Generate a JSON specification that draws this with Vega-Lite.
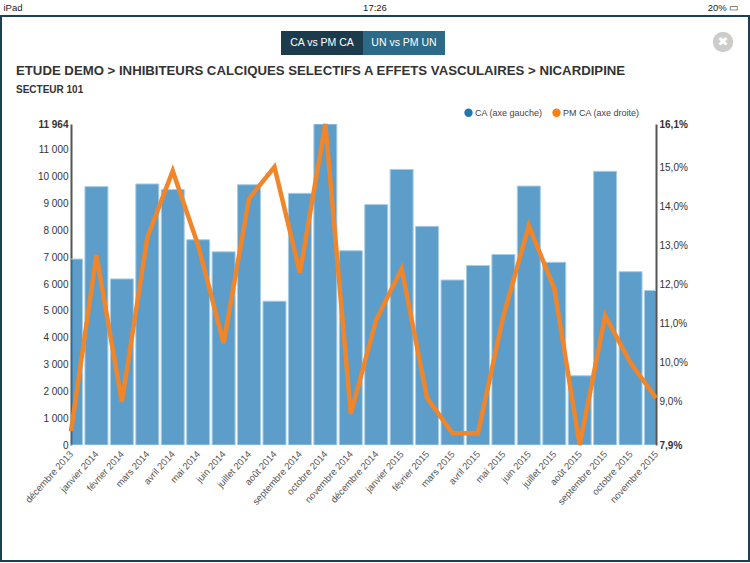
{
"$schema":"https://vega.github.io/schema/vega-lite/v6.json",
"width":585,"height":321,
"autosize":"none",
"padding":{"left":71,"top":124,"right":94,"bottom":118},
"background":"white",
"config":{"view":{"stroke":null},"font":"Liberation Sans","legend":{"symbolType":"circle"}},
"title":{"text":"ETUDE DEMO > INHIBITEURS CALCIQUES SELECTIFS A EFFETS VASCULAIRES > NICARDIPINE","subtitle":"SECTEUR 101","anchor":"start","frame":"group","dx":-55,"offset":-93,"font":"Liberation Sans","fontSize":13.2,"fontWeight":"bold","color":"#333333","subtitleFont":"Liberation Sans","subtitleFontSize":10,"subtitleFontWeight":"bold","subtitleColor":"#333333","subtitlePadding":7},
"datasets":{
"months":[
{"month":"décembre 2013","ca":6930,"pm":8.25},
{"month":"janvier 2014","ca":9630,"pm":12.75},
{"month":"février 2014","ca":6190,"pm":9.0},
{"month":"mars 2014","ca":9730,"pm":13.2},
{"month":"avril 2014","ca":9520,"pm":14.9},
{"month":"mai 2014","ca":7650,"pm":13.0},
{"month":"juin 2014","ca":7200,"pm":10.5},
{"month":"juillet 2014","ca":9700,"pm":14.2},
{"month":"août 2014","ca":5360,"pm":15.0},
{"month":"septembre 2014","ca":9380,"pm":12.3},
{"month":"octobre 2014","ca":11964,"pm":16.1},
{"month":"novembre 2014","ca":7240,"pm":8.7},
{"month":"décembre 2014","ca":8960,"pm":11.1},
{"month":"janvier 2015","ca":10270,"pm":12.4},
{"month":"février 2015","ca":8150,"pm":9.1},
{"month":"mars 2015","ca":6150,"pm":8.2},
{"month":"avril 2015","ca":6690,"pm":8.2},
{"month":"mai 2015","ca":7100,"pm":11.2},
{"month":"juin 2015","ca":9650,"pm":13.5},
{"month":"juillet 2015","ca":6810,"pm":11.9},
{"month":"août 2015","ca":2580,"pm":7.9},
{"month":"septembre 2015","ca":10200,"pm":11.2},
{"month":"octobre 2015","ca":6460,"pm":10.0},
{"month":"novembre 2015","ca":5760,"pm":9.1}
]},
"layer":[
{"data":{"values":[{"part":"frame"}]},
 "mark":{"type":"rect","fill":null,"stroke":"#1d3f55","strokeWidth":2},
 "encoding":{
  "x":{"datum":0,"type":"quantitative","axis":null,"scale":{"domain":[0,1],"range":[-70,678]}},
  "x2":{"datum":1},
  "y":{"datum":0,"type":"quantitative","axis":null,"scale":{"domain":[0,1],"range":[-108,437]}},
  "y2":{"datum":1}}},
{"data":{"name":"months"},
 "mark":{"type":"bar","size":23,"clip":true,"fillOpacity":0.72,"stroke":"#a8cde6","strokeWidth":1},
 "encoding":{
  "x":{"field":"month","type":"nominal","sort":null,"scale":{"type":"point","padding":0},"title":null,
   "axis":{"labelAngle":-48,"labelAlign":"right","labelBaseline":"middle","labelPadding":7,"labelFontSize":9.5,"labelColor":"#555555","labelOverlap":false,"ticks":false,"domain":false,"grid":false,"labelFont":"Liberation Sans"}},
  "y":{"field":"ca","type":"quantitative","scale":{"domain":[0,11964],"nice":false},"title":null,
   "axis":{"orient":"left","values":[0,1000,2000,3000,4000,5000,6000,7000,8000,9000,10000,11000,11964],"labelExpr":"replace(format(datum.value,','),',',' ')","labelFontSize":10,"labelColor":"#333333","labelPadding":3,"labelFont":"Liberation Sans","labelFontWeight":{"condition":{"test":"datum.value==11964","value":"bold"},"value":"normal"},"ticks":false,"grid":false,"domainColor":"#555555","domainWidth":2}},
  "fill":{"datum":"CA (axe gauche)","scale":{"domain":["CA (axe gauche)","PM CA (axe droite)"],"range":["#1f77b4","#ff7f0e"]},
   "legend":{"orient":"none","legendX":393,"legendY":-16,"direction":"horizontal","title":null,"labelFontSize":9,"labelFont":"Liberation Sans","labelColor":"#444444","labelOffset":2,"symbolSize":70,"columnPadding":9,"symbolType":"circle","symbolOpacity":1,"symbolStrokeWidth":0}}}},
{"data":{"name":"months"},
 "mark":{"type":"line","clip":false,"strokeWidth":4.5,"stroke":"#f0852a","strokeJoin":"miter"},
 "encoding":{
  "x":{"field":"month","type":"nominal","sort":null,"scale":{"type":"point","padding":0},"axis":null},
  "y":{"field":"pm","type":"quantitative","scale":{"domain":[7.9,16.1],"nice":false,"zero":false},"title":null,
   "axis":{"orient":"right","values":[7.9,9,10,11,12,13,14,15,16.1],"labelExpr":"replace(format(datum.value,'.1f'),'.',',')+'%'","labelFontSize":10,"labelColor":"#333333","labelPadding":3,"labelFont":"Liberation Sans","labelFontWeight":{"condition":{"test":"datum.value==16.1||datum.value==7.9","value":"bold"},"value":"normal"},"ticks":false,"grid":false,"domainColor":"#555555","domainWidth":2}}}},
{"data":{"values":[{"label":"iPad"},{"label":"20% ▭"}]},
 "mark":{"type":"text","fontSize":9.5,"color":"#222222","font":"Liberation Sans"},
 "encoding":{
  "x":{"field":"label","type":"nominal","sort":null,"axis":null,"scale":{"type":"point","padding":0,"range":[-58,652]}},
  "y":{"datum":"status","type":"nominal","axis":null,"scale":{"type":"point","domain":["status"],"padding":0,"range":[-116,-116]}},
  "text":{"field":"label"}}},
{"data":{"values":[{"label":"17:26"}]},
 "mark":{"type":"text","fontSize":9.5,"color":"#222222","font":"Liberation Sans"},
 "encoding":{
  "x":{"field":"label","type":"nominal","axis":null,"scale":{"type":"point","padding":0,"range":[304,304]}},
  "y":{"datum":"status","type":"nominal","axis":null,"scale":{"type":"point","domain":["status"],"padding":0,"range":[-116,-116]}},
  "text":{"field":"label"}}},
{"data":{"values":[{"tab":"CA vs PM CA"},{"tab":"UN vs PM UN"}]},
 "mark":{"type":"rect"},
 "encoding":{
  "x":{"field":"tab","type":"nominal","sort":null,"axis":null,"scale":{"type":"band","padding":0,"range":[210,374]}},
  "y":{"datum":"tabs","type":"nominal","axis":null,"scale":{"type":"band","domain":["tabs"],"padding":0,"range":[-69,-93]}},
  "fill":{"condition":{"test":"datum.tab=='CA vs PM CA'","value":"#1c3c4e"},"value":"#2c6a87"}}},
{"data":{"values":[{"tab":"CA vs PM CA"},{"tab":"UN vs PM UN"}]},
 "mark":{"type":"text","fontSize":10.5,"color":"white","font":"Liberation Sans"},
 "encoding":{
  "x":{"field":"tab","type":"nominal","sort":null,"axis":null,"scale":{"type":"band","padding":0,"range":[210,374]}},
  "y":{"datum":"tabs","type":"nominal","axis":null,"scale":{"type":"band","domain":["tabs"],"padding":0,"range":[-69,-93]}},
  "text":{"field":"tab"}}},
{"data":{"values":[{"button":"close"}]},
 "mark":{"type":"point","filled":true,"shape":"circle","color":"#cccccc","opacity":1,"size":415},
 "encoding":{
  "x":{"field":"button","type":"nominal","axis":null,"scale":{"type":"point","padding":0,"range":[652,652]}},
  "y":{"field":"button","type":"nominal","axis":null,"scale":{"type":"point","padding":0,"range":[-82,-82]}}}},
{"data":{"values":[{"button":"✖"}]},
 "mark":{"type":"text","fontSize":13,"font":"DejaVu Sans","fontWeight":"bold","color":"white"},
 "encoding":{
  "x":{"field":"button","type":"nominal","axis":null,"scale":{"type":"point","padding":0,"range":[652,652]}},
  "y":{"field":"button","type":"nominal","axis":null,"scale":{"type":"point","padding":0,"range":[-82,-82]}},
  "text":{"field":"button"}}}
],
"resolve":{"scale":{"x":"independent","y":"independent"},"axis":{"x":"independent","y":"independent"}}
}
